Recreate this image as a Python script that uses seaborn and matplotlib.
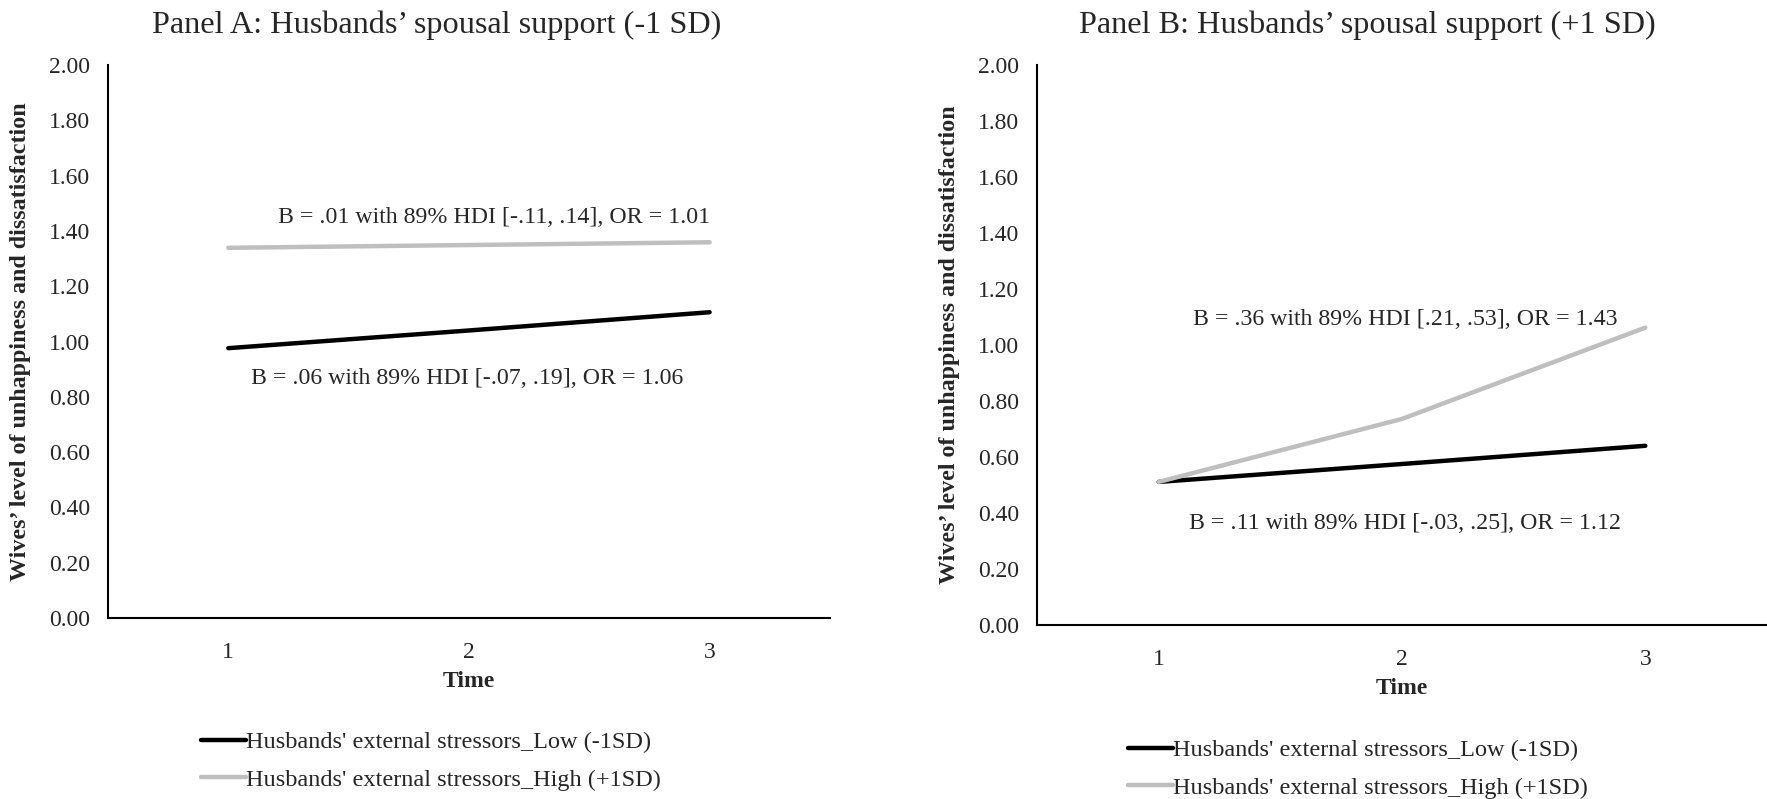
import pandas as pd
import matplotlib.pyplot as plt
import seaborn as sns

# ---------------------------------------------------------------
# Data
# ---------------------------------------------------------------
time = [1, 2, 3]
low_label = "Husbands' external stressors_Low (-1SD)"
high_label = "Husbands' external stressors_High (+1SD)"

a_low = [0.976, 1.040, 1.106]
a_high = [1.339, 1.349, 1.359]
b_low = [0.511, 0.575, 0.640]
b_high = [0.511, 0.736, 1.062]

titles = ["Panel A: Husbands\u2019 spousal support (-1 SD)",
          "Panel B: Husbands\u2019 spousal support (+1 SD)"]
a_notes = ["B = .01 with 89% HDI [-.11, .14], OR = 1.01",
           "B = .06 with 89% HDI [-.07, .19], OR = 1.06"]
b_notes = ["B = .36 with 89% HDI [.21, .53], OR = 1.43",
           "B = .11 with 89% HDI [-.03, .25], OR = 1.12"]
yticks = [0.0, 0.2, 0.4, 0.6, 0.8, 1.0, 1.2, 1.4, 1.6, 1.8, 2.0]

# ---------------------------------------------------------------
# Style
# ---------------------------------------------------------------
sns.set_style("white")
plt.rcParams["font.family"] = ["Liberation Serif", "DejaVu Serif"]
COLORS = {low_label: "#000000", high_label: "#BFBFBF"}
FS = 17


def make_df(low, high):
    return pd.DataFrame({
        "time": time * 2,
        "value": low + high,
        "series": [low_label] * 3 + [high_label] * 3,
    })


fig = plt.figure(figsize=(17.67, 7.99), dpi=100)
ax_a = fig.add_axes([0.0611, 0.2265, 0.4086, 0.6921])
ax_b = fig.add_axes([0.5869, 0.2178, 0.4131, 0.7008])

panels = [
    (ax_a, make_df(a_low, a_high), titles[0], (0.455, 1.072),
     [(2.105, 1.449, a_notes[0]), (1.993, 0.865, a_notes[1])],
     (0.108, 0.097)),
    (ax_b, make_df(b_low, b_high), titles[1], (0.452, 1.071),
     [(2.014, 1.090, b_notes[0]), (2.014, 0.362, b_notes[1])],
     (0.633, 0.087)),
]

for ax, df, title, title_pos, notes, leg_pos in panels:
    sns.lineplot(data=df, x="time", y="value", hue="series",
                 palette=COLORS, linewidth=3.2, ax=ax, legend=True)
    ax.set_xlim(0.5, 3.5)
    ax.set_ylim(0, 2.0)
    ax.set_xticks(time)
    ax.set_xticklabels([str(t) for t in time])
    ax.set_yticks(yticks)
    ax.set_yticklabels([f"{v:.2f}" for v in yticks])
    ax.tick_params(axis="both", length=0, labelsize=FS)
    ax.tick_params(axis="y", pad=13)
    ax.tick_params(axis="x", pad=17)
    ax.set_xlabel("Time", fontsize=FS, fontweight="bold", labelpad=6)
    ax.set_ylabel("Wives\u2019 level of unhappiness and dissatisfaction",
                  fontsize=17.3, fontweight="bold", labelpad=13)
    ax.text(title_pos[0], title_pos[1], title, transform=ax.transAxes,
            ha="center", va="center", fontsize=23.2)
    for side in ["top", "right"]:
        ax.spines[side].set_visible(False)
    for side in ["left", "bottom"]:
        ax.spines[side].set_color("black")
        ax.spines[side].set_linewidth(1.5)

    for x, y, txt in notes:
        ax.text(x, y, txt, ha="center", va="center", fontsize=17.2)

    handles, labels = ax.get_legend_handles_labels()
    ax.get_legend().remove()
    fig.legend(handles, labels, loc="upper left",
               bbox_to_anchor=leg_pos, bbox_transform=fig.transFigure,
               frameon=False, fontsize=17.5, handlelength=1.85,
               handletextpad=0.0, labelspacing=0.64, borderaxespad=0)

plt.savefig("out.png", dpi=100, facecolor="white")
plt.close()
